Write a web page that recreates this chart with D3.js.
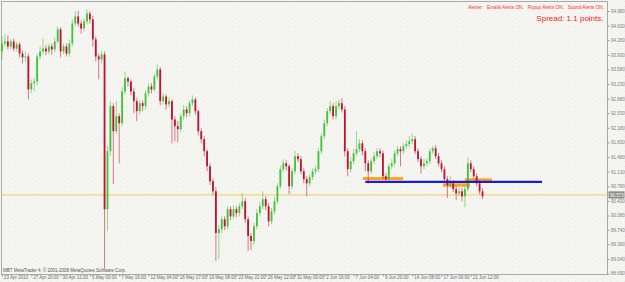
<!DOCTYPE html>
<html>
<head>
<meta charset="utf-8">
<script src="https://cdn.jsdelivr.net/npm/d3@7"></script>
<style>
  body { margin: 0; background: #f4f4f1; }
  svg { display: block; font-family: "Liberation Sans", Arial, sans-serif; }
</style>
</head>
<body>
<div id="chart"></div>
<script>
// H4 candles
const openP = [94.01,94.20,94.25,94.13,94.25,94.08,94.18,93.96,93.87,93.89,
  93.10,93.25,93.29,93.89,94.01,94.08,94.01,94.13,94.06,94.25,
  94.54,94.01,94.13,93.96,94.20,94.68,94.85,94.68,94.56,94.73,
  94.92,94.78,94.30,93.89,93.82,93.94,90.23,91.62,92.70,92.10,
  92.46,92.29,93.05,93.37,93.29,93.05,92.82,92.58,92.77,92.70,
  93.01,93.17,93.10,93.41,93.58,92.82,92.93,92.74,92.82,92.38,
  92.22,92.15,92.46,92.62,92.53,92.77,92.86,92.58,92.10,91.91,
  91.62,91.26,90.90,90.66,89.66,89.75,89.99,89.82,90.23,90.06,
  90.23,90.14,90.30,90.42,89.99,89.59,89.47,89.82,90.14,90.30,
  90.47,90.30,89.94,90.18,90.42,90.78,91.19,91.33,91.26,90.78,
  91.14,91.50,91.43,91.14,90.95,90.85,91.00,91.14,91.19,91.62,
  91.98,92.29,92.58,92.70,92.46,92.70,92.77,92.62,91.62,91.19,
  91.38,91.57,91.67,91.81,91.62,91.33,91.14,91.38,91.50,91.62,
  91.57,91.02,90.95,91.26,91.33,91.57,91.67,91.62,91.74,91.79,
  91.86,91.91,91.62,91.43,91.26,91.33,91.38,91.62,91.69,91.50,
  91.33,91.19,90.95,90.81,90.85,90.71,90.61,90.66,90.54,90.71,
  91.33,91.19,91.02,90.85,90.66];
const highP = [94.37,94.42,94.39,94.30,94.32,94.25,94.23,94.03,94.01,93.96,
  93.34,93.37,93.96,94.13,94.32,94.16,94.20,94.20,94.35,94.61,
  94.59,94.20,94.20,94.30,94.78,94.97,94.99,94.75,94.80,95.02,
  94.97,94.87,94.37,93.96,94.03,94.01,91.74,92.82,92.77,92.82,
  92.53,93.15,93.53,93.41,93.34,93.13,92.89,92.84,92.84,93.08,
  93.25,93.25,93.48,93.70,93.63,93.01,92.98,92.91,92.86,92.46,
  92.34,92.53,92.72,92.70,92.84,92.96,92.91,92.62,92.17,91.98,
  91.67,91.33,90.97,90.76,89.85,90.06,90.06,90.30,90.30,90.33,
  90.30,90.38,90.61,90.50,90.06,89.66,89.90,90.23,90.40,90.66,
  90.54,90.38,90.26,90.52,90.85,91.28,91.43,91.40,91.31,91.21,
  91.62,91.57,91.50,91.21,91.02,91.07,91.21,91.28,91.69,92.05,
  92.38,92.65,92.82,92.77,92.82,92.86,92.89,92.70,91.69,91.48,
  91.67,92.10,91.91,91.88,91.69,91.40,91.45,91.60,91.69,91.69,
  91.64,91.09,91.33,91.43,91.64,91.74,91.74,91.81,91.88,91.98,
  92.05,91.98,91.69,91.50,91.43,91.45,91.69,91.74,91.76,91.57,
  91.40,91.26,91.02,91.02,90.93,90.78,90.74,90.74,90.78,91.48,
  91.40,91.26,91.09,90.93,90.74];
const lowP = [93.82,94.13,94.06,94.06,94.01,94.01,93.87,93.72,93.77,92.86,
  93.01,93.05,93.20,93.82,93.94,93.92,93.94,93.94,93.99,94.20,
  93.87,93.94,93.89,93.89,94.13,94.61,94.61,94.44,94.49,94.66,
  94.68,94.13,93.77,93.34,93.72,88.80,89.71,91.50,90.83,92.03,
  91.33,92.22,92.98,93.17,92.96,92.53,92.34,92.50,92.58,92.62,
  92.93,93.01,93.05,93.34,92.72,92.74,92.62,92.67,91.81,91.86,
  91.83,92.07,92.38,92.43,92.46,92.70,92.50,92.00,91.81,91.50,
  91.14,90.81,90.57,88.99,89.04,89.66,89.73,89.75,89.97,89.99,
  90.04,90.06,90.23,89.90,89.23,89.25,89.37,89.75,90.06,90.23,
  90.21,89.82,89.87,90.11,90.35,90.71,91.12,91.16,90.59,90.71,
  91.07,91.36,91.07,90.85,90.54,90.78,90.93,91.07,91.12,91.55,
  91.91,92.22,92.50,92.38,92.38,92.62,92.55,91.50,91.02,91.12,
  91.31,91.50,91.60,91.52,91.14,90.85,91.07,91.31,91.43,91.48,
  90.95,90.88,90.88,91.19,91.26,91.50,91.26,91.55,91.67,91.71,
  91.79,91.55,91.36,91.09,91.19,91.26,91.31,91.55,91.43,91.26,
  91.12,90.88,90.50,90.74,90.64,90.45,90.54,90.42,90.28,90.66,
  91.12,90.95,90.78,90.59,90.47];
const closeP = [94.20,94.25,94.13,94.25,94.08,94.18,93.96,93.87,93.89,93.10,
  93.25,93.29,93.89,94.01,94.08,94.01,94.13,94.06,94.25,94.54,
  94.01,94.13,93.96,94.20,94.68,94.85,94.68,94.56,94.73,94.92,
  94.78,94.30,93.89,93.82,93.94,90.23,91.62,92.70,92.10,92.46,
  92.29,93.05,93.37,93.29,93.05,92.82,92.58,92.77,92.70,93.01,
  93.17,93.10,93.41,93.58,92.82,92.93,92.74,92.82,92.38,92.22,
  92.15,92.46,92.62,92.53,92.77,92.86,92.58,92.10,91.91,91.62,
  91.26,90.90,90.66,89.66,89.75,89.99,89.82,90.23,90.06,90.23,
  90.14,90.30,90.42,89.99,89.59,89.47,89.82,90.14,90.30,90.47,
  90.30,89.94,90.18,90.42,90.78,91.19,91.33,91.26,90.78,91.14,
  91.50,91.43,91.14,90.95,90.85,91.00,91.14,91.19,91.62,91.98,
  92.29,92.58,92.70,92.46,92.70,92.77,92.62,91.62,91.19,91.38,
  91.57,91.67,91.81,91.62,91.33,91.14,91.38,91.50,91.62,91.57,
  91.02,90.95,91.26,91.33,91.57,91.67,91.62,91.74,91.79,91.86,
  91.91,91.62,91.43,91.26,91.33,91.38,91.62,91.69,91.50,91.33,
  91.19,90.95,90.81,90.85,90.71,90.61,90.66,90.54,90.71,91.33,
  91.19,91.02,90.85,90.66,90.54];

// time axis labels (every 10th candle here)
const timeLabelIdx = [0,10,20,30,40,50,60,70,80,90,100,110,120,130,140,150,160];
const timeLabels = ["23 Apr 2010","27 Apr 20:00","30 Apr 12:00","5 May 00:00","7 May 16:00",
  "12 May 04:00","16 May 17:00","19 May 08:00","23 May 21:00","26 May 12:00","31 May 00:00",
  "2 Jun 16:00","7 Jun 04:00","9 Jun 20:00","14 Jun 08:00","17 Jun 00:00","21 Jun 12:00"];

// price axis labels
const priceTicks = [94.980,94.630,94.280,93.930,93.580,93.230,92.880,92.530,92.180,91.830,
  91.480,91.130,90.780,90.430,90.080,89.740,89.390,89.040,88.690];
const bidPrice = 90.573;

// drawn objects: orange zones and the blue line
const zoneFrom = [123.2, 150.5, 158.0];
const zoneTo = [136.9, 159.7, 167.2];
const zoneTop = [91.00, 90.85, 90.97];
const zoneBottom = [90.93, 90.77, 90.89];
const lineFrom = 124, lineTo = 184.3, linePrice = 90.885;

const width = 625, height = 282;
const frame = {left: 1.5, top: 1.5, right: 607.5, bottom: 274.5};

const svg = d3.select("#chart")
  .append("svg")
    .attr("width", width)
    .attr("height", height);

// dithered grey background
const pat = svg.append("defs").append("pattern")
    .attr("id", "dots")
    .attr("width", 7).attr("height", 5)
    .attr("patternUnits", "userSpaceOnUse");
pat.append("rect").attr("width", 7).attr("height", 5).attr("fill", "#f4f4f1");
pat.append("rect").attr("x", 1).attr("y", 1).attr("width", 1).attr("height", 1).attr("fill", "#e9e9e5");
pat.append("rect").attr("x", 4).attr("y", 3).attr("width", 1).attr("height", 1).attr("fill", "#ebebe7");
svg.append("rect").attr("width", width).attr("height", height).attr("fill", "url(#dots)");

const x = d3.scaleLinear().domain([0, 160]).range([2, 470.8]);
const y = d3.scaleLinear().domain([88.69, 94.98]).range([273.5, 11]);

// frame
svg.append("rect")
    .attr("x", frame.left).attr("y", frame.top)
    .attr("width", frame.right - frame.left)
    .attr("height", frame.bottom - frame.top)
    .attr("fill", "none")
    .attr("stroke", "#a9a9a9");

// price axis
const yAxis = svg.append("g")
    .attr("transform", `translate(${frame.right}, 0)`)
    .call(d3.axisRight(y).tickValues(priceTicks).tickSize(2).tickPadding(1.5).tickFormat(d3.format(".3f")));
yAxis.select(".domain").remove();
yAxis.selectAll("line").attr("stroke", "#999");
yAxis.selectAll("text").attr("font-size", "4.5px").attr("fill", "#808080").attr("font-family", "Liberation Sans, Arial");

// time axis
const xAxis = svg.append("g")
    .attr("transform", `translate(0, ${frame.bottom})`)
    .call(d3.axisBottom(x).tickValues(timeLabelIdx).tickSize(2).tickFormat((d, i) => timeLabels[i]));
xAxis.select(".domain").remove();
xAxis.selectAll("line").attr("stroke", "#999");
xAxis.selectAll("text")
    .attr("font-size", "4.5px").attr("fill", "#6a6a6a")
    .attr("font-family", "Liberation Sans, Arial")
    .attr("text-anchor", "start")
    .attr("x", 1.5).attr("y", 1).attr("dy", "0.71em");

// bid line
svg.append("line")
    .attr("x1", frame.left).attr("x2", frame.right)
    .attr("y1", y(bidPrice)).attr("y2", y(bidPrice))
    .attr("stroke", "#f2cf55").attr("stroke-width", 1);

// orange zones
svg.selectAll("rect.zone")
  .data(zoneFrom)
  .enter()
  .append("rect")
    .attr("class", "zone")
    .attr("x", (d, i) => x(d))
    .attr("width", (d, i) => x(zoneTo[i]) - x(d))
    .attr("y", (d, i) => y(zoneTop[i]))
    .attr("height", (d, i) => y(zoneBottom[i]) - y(zoneTop[i]))
    .attr("fill", "#ffa21f");

// candles
const idx = d3.range(closeP.length);
const bull = "#3fc437", bear = "#bf1230";

svg.selectAll("line.wick")
  .data(idx)
  .enter()
  .append("line")
    .attr("class", "wick")
    .attr("x1", d => x(d)).attr("x2", d => x(d))
    .attr("y1", d => y(highP[d])).attr("y2", d => y(lowP[d]))
    .attr("stroke", d => closeP[d] >= openP[d] ? bull : bear)
    .attr("stroke-opacity", 0.55)
    .attr("stroke-width", 1);

svg.selectAll("rect.body")
  .data(idx)
  .enter()
  .append("rect")
    .attr("class", "body")
    .attr("x", d => x(d) - 0.9)
    .attr("width", 1.8)
    .attr("y", d => y(Math.max(openP[d], closeP[d])))
    .attr("height", d => Math.max(1, Math.abs(y(openP[d]) - y(closeP[d]))))
    .attr("fill", d => closeP[d] >= openP[d] ? bull : bear);

// blue line
svg.append("line")
    .attr("x1", x(lineFrom)).attr("x2", x(lineTo))
    .attr("y1", y(linePrice)).attr("y2", y(linePrice))
    .attr("stroke", "#1c1ccf").attr("stroke-width", 2.4);

// bid label on the axis
svg.append("rect")
    .attr("x", frame.right + 1).attr("y", y(bidPrice) - 3.6)
    .attr("width", 16).attr("height", 7.2)
    .attr("fill", "#8c8c8c");
svg.append("text")
    .attr("x", frame.right + 2.5).attr("y", y(bidPrice) + 1.6)
    .attr("font-size", "4.5px").attr("fill", "#fff")
    .text(d3.format(".3f")(bidPrice));

// texts
svg.append("text")
    .attr("x", 604).attr("y", 8.5)
    .attr("text-anchor", "end")
    .attr("font-size", "4.7px").attr("fill", "#ff3030")
    .attr("xml:space", "preserve")
    .text("Alerter:   Emails Alerts ON.   Popup Alerts ON.   Sound Alerts ON.");
svg.append("text")
    .attr("x", 603.5).attr("y", 21)
    .attr("text-anchor", "end")
    .attr("font-size", "8px").attr("fill", "#ff2020")
    .text("Spread: 1.1 points.");
svg.append("text")
    .attr("x", 3).attr("y", 271.5)
    .attr("font-size", "4.5px").attr("fill", "#555")
    .text("MBT MetaTrader 4, © 2001-2008 MetaQuotes Software Corp.");
</script>
</body>
</html>
